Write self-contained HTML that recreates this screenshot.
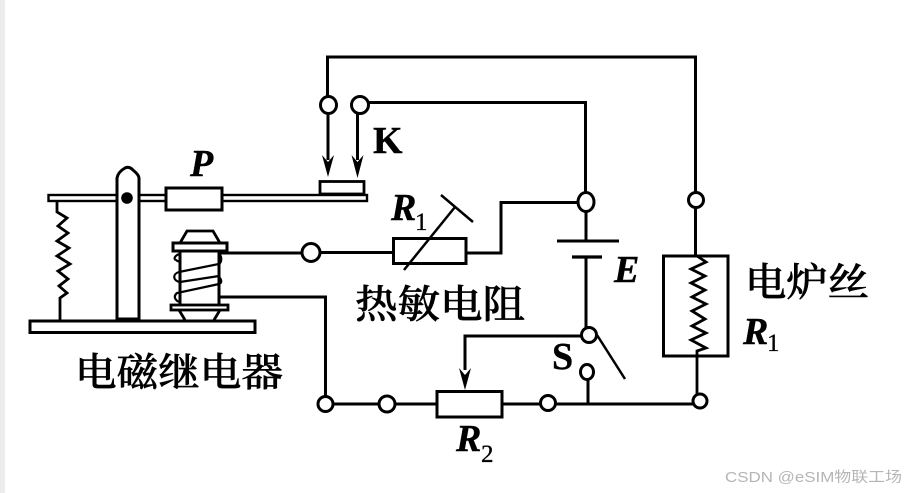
<!DOCTYPE html>
<html><head><meta charset="utf-8"><style>
html,body{margin:0;padding:0;background:#fff}
svg{display:block}
.c{font-family:"Noto Serif CJK SC","Liberation Serif",serif;font-size:39px;fill:#000;font-weight:500;stroke:#000;stroke-width:.6px}
.i{font-family:"Liberation Serif",serif;font-style:italic;font-weight:bold;font-size:38px;fill:#000;stroke:#000;stroke-width:.4px}
.b{font-family:"Liberation Serif",serif;font-weight:bold;font-size:38px;fill:#000;stroke:#000;stroke-width:.4px}
.s{font-family:"Liberation Serif",serif;font-size:25px;fill:#000;stroke:#000;stroke-width:.3px}
</style></head><body>
<svg width="906" height="493" viewBox="0 0 906 493" xmlns="http://www.w3.org/2000/svg">
<rect width="906" height="493" fill="#fff"/>
<rect x="0" y="0" width="5" height="493" fill="#ececec"/>
<g fill="none" stroke="#000" stroke-width="3">
<!-- relay -->
<rect x="48.500" y="195" width="318.500" height="6" stroke-width="2.400"/>
<path d="M57 201V212L67 218L58 226L68 233L57 241L69 248L57 256L70 264L58 271L68 279L59 286L67 293L60 298V321" stroke-width="2.800"/>
<path d="M117 319V178Q118 172 125 168Q129 166 133 170Q139 175 139 178V319Z" stroke-width="3" fill="#fff"/>
<rect x="166" y="188" width="56" height="22" stroke-width="3" fill="#fff"/>
<rect x="30" y="321" width="225" height="11.500" stroke-width="3"/>
<path d="M180 243L187 231H213L220 243" stroke-width="2.800"/>
<rect x="173" y="243" width="54" height="8" stroke-width="3"/>
<path d="M180 251V305M219 251V305" stroke-width="3"/>
<rect x="171" y="305" width="57" height="5" stroke-width="2.800"/>
<path d="M179 310L185 320M220 310L214 320" stroke-width="2.800"/>
<path d="M180 254C175 255 173 259 176 260Q178 262 180 261M219 254C222 256 222 262 219 264L179 272C172 274 173 281 180 282L219 276M219 277C222 280 222 283 219 284L177 293C173 296 175 301 180 302" stroke-width="2.200"/>
<!-- wires -->
<path d="M327.500 97V57H695.500V192"/>
<path d="M369 102.500H585.500V192"/>
<path d="M328 113V160M357.500 113V160"/>
<rect x="320" y="181.500" width="44" height="12.500" stroke-width="2.800"/>
<path d="M219 253H302M320 252.500H393"/>
<path d="M219 297H325.500V396"/>
<rect x="393.500" y="238.500" width="72.500" height="25" stroke-width="3"/>
<path d="M466 253H501V202.500H578"/>
<path d="M404 270L455 207M441 195L473 222" stroke-width="2.500"/>
<path d="M586 212V241M557 241H619" />
<path d="M572 257H602" stroke-width="3.200"/>
<path d="M586 257V328"/>
<path d="M581 336H465V370"/>
<path d="M597 335L625 379" stroke-width="2.500"/>
<path d="M588 380V404"/>
<path d="M333 404H379M395 404H437M502 404H540M556 404H693"/>
<rect x="437" y="391.500" width="65" height="25.500" stroke-width="3"/>
<path d="M695.500 207V256"/>
<rect x="663.500" y="256" width="64.500" height="100" stroke-width="3"/>
<path d="M697 256L706 262L691 269L705 276L691 283L705 290L692 297L706 304L692 311L705 319L692 326L706 333L691 340L706 348L697 351V394" stroke-width="2.800"/>
</g>
<!-- arrowheads -->
<path d="M322 155L328 177L334 155L328 162Z M351.500 155L357.500 178L363.500 155L357.500 162Z M459 368L465 390L471 368L465 375Z" fill="#000"/>
<!-- dot -->
<circle cx="127" cy="198" r="5.800" fill="#000"/>
<!-- terminals -->
<g fill="#fff" stroke="#000" stroke-width="3">
<ellipse cx="328.500" cy="105" rx="8" ry="8.500"/>
<circle cx="360" cy="105" r="8.500"/>
<ellipse cx="586" cy="202" rx="8" ry="9.500"/>
<circle cx="311" cy="252.500" r="9"/>
<circle cx="696" cy="200" r="7.500"/>
<circle cx="589" cy="335" r="7.500"/>
<ellipse cx="587" cy="372" rx="6.500" ry="7.500"/>
<circle cx="325.500" cy="404" r="7.500"/>
<circle cx="387" cy="404" r="8"/>
<circle cx="548" cy="403" r="7.500"/>
<circle cx="700" cy="401" r="7"/>
</g>
<!-- labels -->
<text class="i" x="190" y="176">P</text>
<text class="b" x="373" y="153">K</text>
<text class="i" x="391" y="220">R</text><text class="s" x="415" y="230">1</text>
<text class="i" x="614" y="282">E</text>
<text class="b" x="552" y="369">S</text>
<text class="i" x="743" y="344">R</text><text class="s" x="767" y="351">1</text>
<text class="i" x="456" y="451">R</text><text class="s" x="481" y="462">2</text>
<text class="c" x="75" y="386" textLength="208" lengthAdjust="spacingAndGlyphs">电磁继电器</text>
<text class="c" x="355" y="318" textLength="170" lengthAdjust="spacingAndGlyphs">热敏电阻</text>
<text class="c" x="745" y="296" textLength="124" lengthAdjust="spacingAndGlyphs">电炉丝</text>
<text x="725" y="482" font-family="'Liberation Sans','Noto Sans CJK SC',sans-serif" font-size="14.500" fill="#b5b5b5" textLength="177" lengthAdjust="spacingAndGlyphs">CSDN @eSIM物联工场</text>
</svg>
</body></html>
